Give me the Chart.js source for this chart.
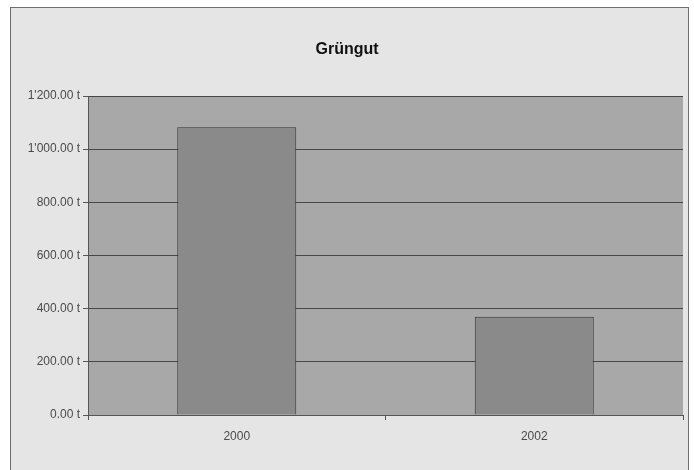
<!DOCTYPE html>
<html>
<head>
<meta charset="utf-8">
<script src="https://cdn.jsdelivr.net/npm/chart.js@4"></script>
<style>
  html, body { margin: 0; padding: 0; background: #ffffff; }
  #frame {
    position: absolute; left: 10px; top: 7px; width: 677px; height: 470px;
    border: 1px solid #6e6e6e; border-bottom: none; background: #e5e5e5;
  }
  #chart { position: absolute; left: 0; top: 0; }
</style>
</head>
<body>
<div id="frame"><canvas id="chart" width="677" height="463"></canvas></div>
<script>
// data
const years = ["2000", "2002"];
const tonnes = [1082, 370];
const yTicks = [0, 200, 400, 600, 800, 1000, 1200];

function fmtTonnes(v) {
  const s = v.toFixed(2);
  const [i, d] = s.split(".");
  const grouped = i.replace(/\B(?=(\d{3})+(?!\d))/g, "'");
  return grouped + "." + d + " t";
}

// grey plot background like the old office chart
const plotBg = {
  id: "plotBg",
  beforeDraw(chart) {
    const { ctx, chartArea: a } = chart;
    ctx.save();
    ctx.fillStyle = "#a8a8a8";
    ctx.fillRect(a.left, a.top, a.right - a.left, a.bottom - a.top);
    ctx.restore();
  }
};

new Chart(document.getElementById("chart"), {
  type: "bar",
  data: {
    labels: years,
    datasets: [{
      data: tonnes,
      backgroundColor: "#8a8a8a",
      borderColor: "#333333",
      borderWidth: 1,
      barPercentage: 0.4,
      categoryPercentage: 1
    }]
  },
  options: {
    responsive: false,
    animation: false,
    layout: { padding: { left: 0, right: 5, top: 0, bottom: 0 } },
    plugins: {
      legend: { display: false },
      tooltip: { enabled: false },
      title: {
        display: true,
        text: "Grüngut",
        color: "#111111",
        font: { family: "Liberation Sans", size: 16, weight: "bold" },
        padding: { top: 32, bottom: 36.8 }
      }
    },
    scales: {
      y: {
        min: 0, max: 1200,
        afterBuildTicks: s => { s.ticks = yTicks.map(v => ({ value: v })); },
        afterFit: s => { s.width = 77; },
        border: { color: "#555555" },
        grid: { color: "#474747", tickLength: 5, tickColor: "#555555" },
        ticks: {
          color: "#4a4a4a", padding: 3,
          font: { family: "Liberation Sans", size: 12 },
          callback: v => fmtTonnes(v)
        }
      },
      x: {
        afterFit: s => { s.height = 56; },
        border: { color: "#555555" },
        grid: { offset: true, drawOnChartArea: false, tickLength: 5, tickColor: "#555555" },
        ticks: {
          color: "#4a4a4a", padding: 9,
          font: { family: "Liberation Sans", size: 12 }
        }
      }
    }
  },
  plugins: [plotBg]
});
</script>
</body>
</html>
